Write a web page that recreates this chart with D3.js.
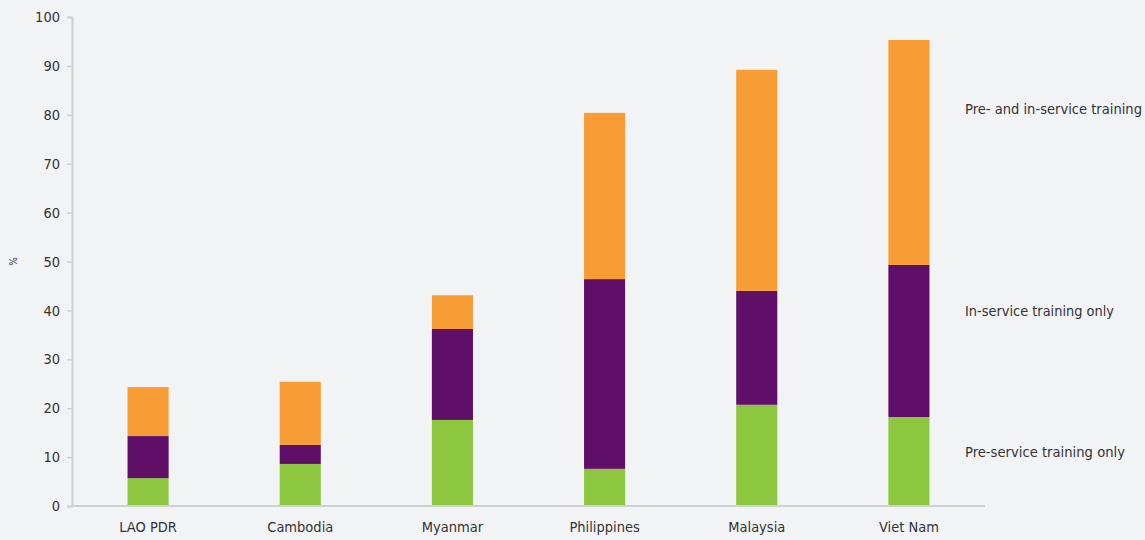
<!DOCTYPE html>
<html>
<head>
<meta charset="utf-8">
<script src="https://cdn.jsdelivr.net/npm/d3@7"></script>
<style>
  html, body { margin: 0; padding: 0; background: #f2f3f5; }
  svg { display: block; font-family: "DejaVu Sans Condensed", "Liberation Sans Narrow", "Roboto", sans-serif; }
</style>
</head>
<body>
<svg id="chart" width="1145" height="540"></svg>
<script>
// Share of teachers by type of training received (%)
const countries = ["LAO PDR", "Cambodia", "Myanmar", "Philippines", "Malaysia", "Viet Nam"];
const preServiceOnly = [5.7, 8.6, 17.6, 7.6, 20.7, 18.2];
const inServiceOnly = [8.6, 3.9, 18.6, 38.8, 23.3, 31.1];
const preAndInService = [10.0, 12.9, 6.9, 34.0, 45.2, 46.0];
const seriesNames = ["Pre-service training only", "In-service training only", "Pre- and in-service training"];
const seriesColors = ["#8dc63f", "#5f0f67", "#f89c35"];
const yTicks = [0, 10, 20, 30, 40, 50, 60, 70, 80, 90, 100];

const svg = d3.select("#chart");
const margin = { left: 72, right: 160, top: 17, bottom: 34 };
const width = 1145, height = 540;
const fontStack = '"DejaVu Sans Condensed", "Liberation Sans Narrow", "Roboto", sans-serif';

const rows = countries.map((c, i) => ({
  country: c,
  pre: preServiceOnly[i],
  inS: inServiceOnly[i],
  both: preAndInService[i]
}));
const keys = ["pre", "inS", "both"];
const stacked = d3.stack().keys(keys)(rows);

const x = d3.scaleBand().domain(countries)
  .range([margin.left, width - margin.right])
  .paddingInner(0.73).paddingOuter(0.365);
const y = d3.scaleLinear().domain([0, 100]).range([height - margin.bottom, margin.top]);

// bars
svg.append("g").selectAll("g").data(stacked).join("g")
  .attr("fill", (d, i) => seriesColors[i])
  .selectAll("rect").data(d => d).join("rect")
  .attr("x", d => x(d.data.country))
  .attr("width", x.bandwidth())
  .attr("y", d => y(d[1]))
  .attr("height", d => y(d[0]) - y(d[1]));

// y axis
const yAxis = svg.append("g").attr("transform", `translate(${margin.left},0)`)
  .call(d3.axisLeft(y).tickValues(yTicks).tickSize(5).tickPadding(7))
  .attr("font-family", fontStack).attr("font-size", 14.5);
yAxis.select(".domain").attr("stroke", "#cfd0d2").attr("stroke-width", 2);
yAxis.selectAll(".tick line").attr("stroke", "#cfd0d2").attr("stroke-width", 1.5);
yAxis.selectAll(".tick text").attr("fill", "#333");

// x axis
const xAxis = svg.append("g").attr("transform", `translate(0,${y(0)})`)
  .call(d3.axisBottom(x).tickSize(0).tickPadding(16))
  .attr("font-family", fontStack).attr("font-size", 14.5);
xAxis.select(".domain").attr("stroke", "#cfd0d2").attr("stroke-width", 2)
  .attr("d", `M${margin.left},0H${width - margin.right}`);
xAxis.selectAll(".tick text").attr("fill", "#333");

// y axis title
svg.append("text")
  .attr("transform", `translate(17,${(y(0) + y(100)) / 2}) rotate(-90)`)
  .attr("text-anchor", "middle")
  .attr("fill", "#333")
  .style("font-size", "10px")
  .text("%");

// series labels beside the last bar
const labelY = [452, 311, 109];
svg.append("g").selectAll("text").data(seriesNames).join("text")
  .attr("x", 965)
  .attr("y", (d, i) => labelY[i])
  .attr("dy", "0.35em")
  .attr("fill", "#333")
  .style("font-size", "14px")
  .attr("textLength", (d, i) => [160, 149, 177][i])
  .attr("lengthAdjust", "spacingAndGlyphs")
  .text(d => d);
</script>
</body>
</html>
